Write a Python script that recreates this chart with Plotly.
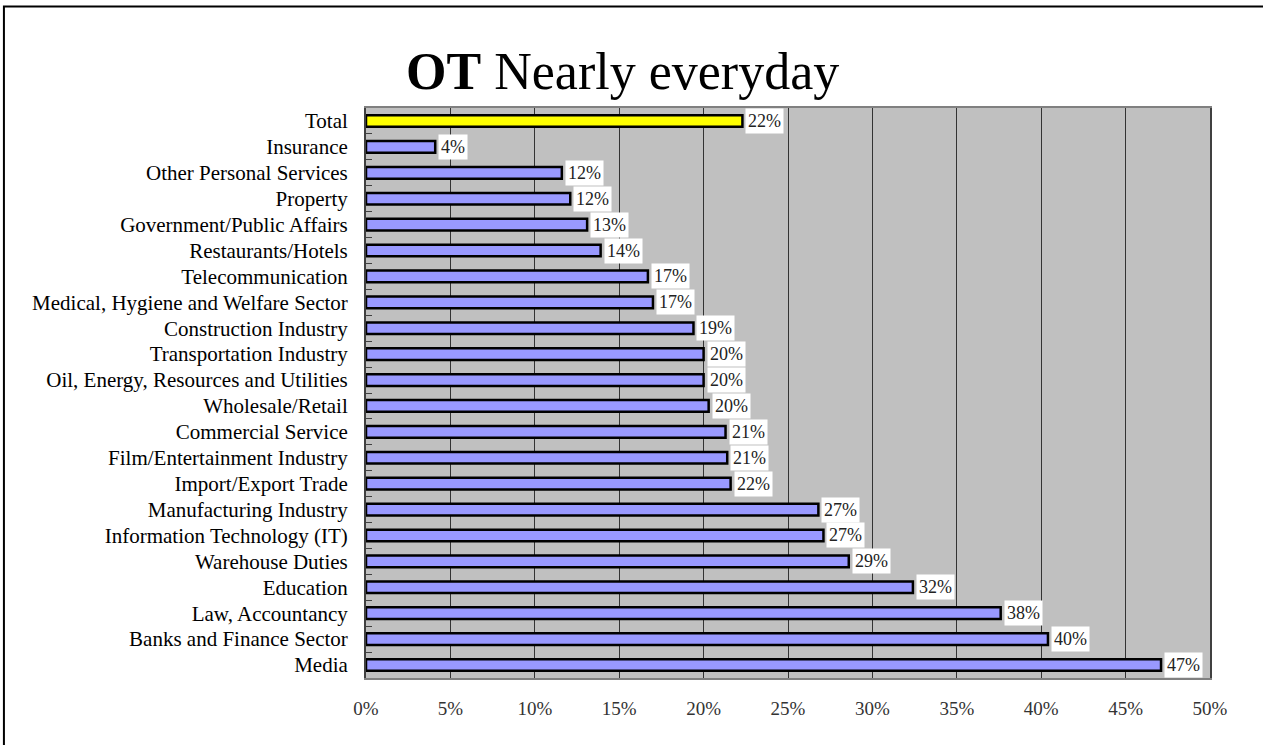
import plotly.graph_objects as go

# categories listed top to bottom as in the chart
sectors = ['Total', 'Insurance', 'Other Personal Services', 'Property',
           'Government/Public Affairs', 'Restaurants/Hotels', 'Telecommunication',
           'Medical, Hygiene and Welfare Sector', 'Construction Industry',
           'Transportation Industry', 'Oil, Energy, Resources and Utilities',
           'Wholesale/Retail', 'Commercial Service', 'Film/Entertainment Industry',
           'Import/Export Trade', 'Manufacturing Industry', 'Information Technology (IT)',
           'Warehouse Duties', 'Education', 'Law, Accountancy',
           'Banks and Finance Sector', 'Media']
share = [0.223, 0.041, 0.116, 0.121, 0.131, 0.139, 0.167, 0.170, 0.194,
         0.200, 0.200, 0.203, 0.213, 0.214, 0.216, 0.268, 0.271, 0.286,
         0.324, 0.376, 0.404, 0.471]

serif = 'Liberation Serif, Times New Roman, serif'
colors = ['#ffff00' if s == 'Total' else '#9999ff' for s in sectors]

fig = go.Figure(go.Bar(
    x=share, y=sectors, orientation='h',
    marker=dict(color=colors, line=dict(color='black', width=2.5)),
    hoverinfo='x+y'))

# value labels with white boxes
for s, v in zip(sectors, share):
    fig.add_annotation(x=v, y=s, text=f'{round(v * 100)}%', showarrow=False,
                       xanchor='left', xshift=3, bgcolor='white', borderpad=2,
                       font=dict(family=serif, size=18, color='#222'))

fig.update_layout(
    width=1263, height=745,
    margin=dict(l=366, r=53, t=108, b=67),
    paper_bgcolor='white', plot_bgcolor='#c0c0c0',
    bargap=0.55, showlegend=False,
    title=dict(text='<b>OT</b> Nearly everyday', x=0.493, xanchor='center',
               y=0.905, yanchor='middle', yref='container',
               font=dict(family=serif, size=52, color='black')),
    xaxis=dict(range=[0, 0.5], dtick=0.05, tickformat='.0%',
               showgrid=True, gridcolor='#333333', gridwidth=1,
               showline=True, linecolor='#808080', linewidth=2, mirror=True,
               zeroline=False, ticks='', ticklabelstandoff=12,
               tickfont=dict(family=serif, size=19, color='#333')),
    yaxis=dict(autorange='reversed', showgrid=False,
               showline=True, linecolor='#404040', linewidth=2, mirror=True,
               ticks='inside', tickson='boundaries', ticklen=6, tickcolor='#404040',
               ticklabelstandoff=12,
               tickfont=dict(family=serif, size=21, color='black')),
    shapes=[dict(type='rect', xref='paper', yref='paper',
                 x0=-0.429, x1=1.2, y0=-0.3, y1=1.178,
                 line=dict(color='black', width=2), layer='below')],
)

fig.write_html('out.html', config={'displayModeBar': False},
               post_script="document.body.style.margin='0';")
